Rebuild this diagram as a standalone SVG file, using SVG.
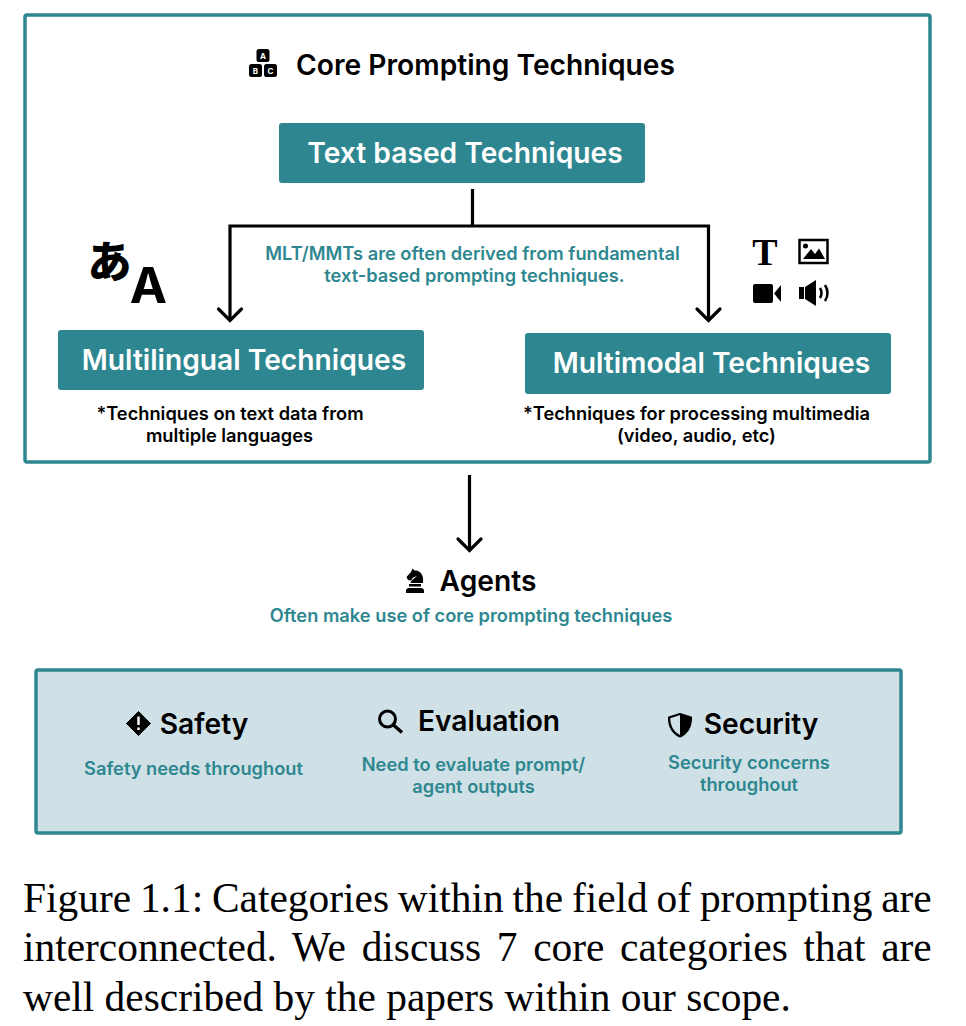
<svg xmlns="http://www.w3.org/2000/svg" width="966" height="1026" viewBox="0 0 966 1026">
<style>
text{font-family:Inter,"Liberation Sans",sans-serif;text-anchor:middle}
.frame{fill:#fff;stroke:#2e8790;stroke-width:3.500}
.band{fill:#cfe1e6;stroke:#2e8790;stroke-width:3.500}
.box{fill:#2e8790}
.h{font-size:28.200px;font-weight:600;fill:#000}
.b{font-size:28.200px;font-weight:600;fill:#fff}
.t{font-size:18.250px;font-weight:600;fill:#2e8790}
.n{font-size:18.250px;font-weight:600;fill:#000}
.cap{font-family:"Liberation Serif",serif;font-size:41.400px;fill:#000;text-anchor:start}
.wire{fill:none;stroke:#000;stroke-width:3.200}
.head{fill:none;stroke:#000;stroke-width:3.200;stroke-linecap:round}
.k{font-size:8px;font-weight:700;fill:#fff}
</style>
<rect class="frame" x="25" y="15" width="905" height="447" rx="2"/>
<g id="connectors">
<path class="wire" d="M472.500 189V226"/>
<path class="wire" d="M230 320V226H708.500V320"/>
<path class="head" d="M218.500 309L230 320.500L241.500 309"/>
<path class="head" d="M697 309L708.500 320.500L720 309"/>
<path class="wire" d="M469.500 475V550"/>
<path class="head" d="M458 539L469.500 550.500L481 539"/>
</g>
<g id="core-title">
<g id="icon-blocks">
<rect x="256.500" y="49" width="13" height="13" rx="2.500" fill="#000"/>
<rect x="249" y="64" width="13" height="13" rx="2.500" fill="#000"/>
<rect x="264" y="64" width="13" height="13" rx="2.500" fill="#000"/>
<text class="k" x="263" y="58.500">A</text><text class="k" x="255.500" y="73.500">B</text><text class="k" x="270.500" y="73.500">C</text>
</g>
<text class="h" x="485.500" y="75">Core Prompting Techniques</text>
</g>
<g id="text-based"><rect class="box" x="279" y="123" width="366" height="60" rx="3"/><text class="b" x="465" y="163">Text based Techniques</text></g>
<g id="mlt-mmt-note"><text class="t" x="472.500" y="260">MLT/MMTs are often derived from fundamental</text><text class="t" x="474.500" y="282">text-based prompting techniques.</text></g>
<g id="icon-translate"><text x="109.500" y="278" style="font-family:'Noto Sans CJK JP',sans-serif;font-size:44px;font-weight:900" fill="#000">あ</text><text x="148.500" y="303" style="font-size:50px;font-weight:700" fill="#000">A</text></g>
<g id="icons-media">
<text x="765" y="265" style="font-family:'Liberation Serif',serif;font-size:38px;font-weight:700" fill="#000">T</text>
<rect x="799.500" y="240" width="28" height="23" fill="#fff" stroke="#000" stroke-width="2.500"/>
<circle cx="805.500" cy="246" r="2.500" fill="#000"/>
<path d="M803 259L811 249L815 254L819 248.500L825 259Z" fill="#000"/>
<rect x="753" y="284" width="20" height="19" rx="2" fill="#000"/>
<path d="M774 293.500L781 285V302Z" fill="#000"/>
<path d="M799 287H804V299H799ZM805 287L816 280V306L805 299Z" fill="#000"/>
<path d="M820 288Q823 293 820 298M825 285Q830 293 825 301" fill="none" stroke="#000" stroke-width="2.500"/>
</g>
<g id="multilingual"><rect class="box" x="58" y="330" width="366" height="60" rx="3"/><text class="b" x="244" y="370">Multilingual Techniques</text><text class="n" x="230" y="420">*Techniques on text data from</text><text class="n" x="229.500" y="442">multiple languages</text></g>
<g id="multimodal"><rect class="box" x="525" y="333" width="366" height="61" rx="3"/><text class="b" x="711.500" y="373">Multimodal Techniques</text><text class="n" x="696.500" y="420">*Techniques for processing multimedia</text><text class="n" x="696.500" y="442">(video, audio, etc)</text></g>
<g id="agents">
<path d="M406 593V590.500Q406 588.500 409 588H421Q424 588.500 424 590.500V593ZM409 584H421V586.500H409ZM410.500 583C411 580 415 578 417 576L413 577.500L411 580.500L408 580L406.500 577L411 572L412.500 568.500L414.500 570.500C421 570 424 576 423 583Z" fill="#000"/>
<text class="h" x="488" y="591">Agents</text>
<text class="t" x="471" y="622">Often make use of core prompting techniques</text>
</g>
<rect class="band" x="36" y="670" width="865" height="163" rx="2"/>
<g id="safety">
<path d="M138.500 711.500L150.500 723.500L138.500 735.500L126.500 723.500Z" fill="#000" stroke="#000" stroke-linejoin="round"/>
<path d="M137.300 716.500H139.700V725H137.300ZM137.300 727.500H139.700V730H137.300Z" fill="#fff"/>
<text class="h" x="204" y="733.500">Safety</text>
<text class="t" x="193.500" y="775">Safety needs throughout</text>
</g>
<g id="evaluation">
<circle cx="387.500" cy="719" r="8" fill="none" stroke="#000" stroke-width="3"/>
<path d="M393.500 725L402 732.500" stroke="#000" stroke-width="3.500"/>
<text class="h" x="489" y="731">Evaluation</text>
<text class="t" x="473.500" y="771">Need to evaluate prompt/</text>
<text class="t" x="473.500" y="793">agent outputs</text>
</g>
<g id="security">
<path d="M680 714L691 717.500Q691 731 680 736.500Q669 731 669 717.500Z" fill="#cfe1e6" stroke="#000" stroke-width="2.200" stroke-linejoin="round"/>
<path d="M680 714L691 717.500Q691 731 680 736.500Z" fill="#000"/>
<text class="h" x="761" y="733.500">Security</text>
<text class="t" x="749" y="769">Security concerns</text>
<text class="t" x="749" y="791">throughout</text>
</g>
<g id="caption">
<text class="cap" x="23" y="912" style="word-spacing:-1.500px">Figure 1.1: Categories within the field of prompting are</text>
<text class="cap" x="23" y="961" style="word-spacing:5.300px">interconnected. We discuss 7 core categories that are</text>
<text class="cap" x="23" y="1011">well described by the papers within our scope.</text>
</g>
</svg>
